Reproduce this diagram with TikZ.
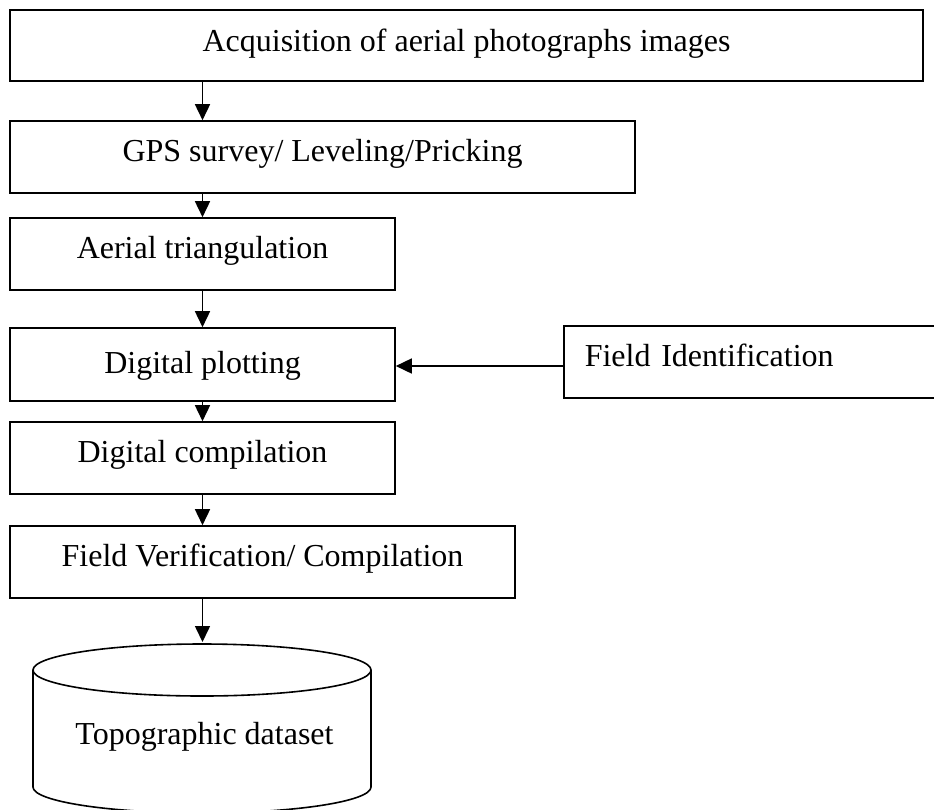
\documentclass[tikz,border=0pt]{standalone}
\usepackage{fontspec}
\setmainfont{Liberation Serif}
\usetikzlibrary{arrows.meta}
\begin{document}
\begin{tikzpicture}[x=1pt,y=1pt,
  box/.style={draw, line width=1.6pt, inner sep=0pt,
    font=\fontsize{32}{38}\selectfont, text height=20pt, text depth=12pt},
  flow/.style={line width=1.6pt, -{Triangle[width=15pt,length=16pt]}},
  can/.style={line width=1.6pt}]
\useasboundingbox (0,0) rectangle (934,-809);

% main chain of steps
\node[box, minimum width=913pt, minimum height=71pt, text height=22pt, text depth=11pt]
  (acq) at (466.5,-45.5) {Acquisition of aerial photographs images};
\node[box, minimum width=625pt, minimum height=72pt] (gps) at (322.5,-157) {GPS survey/ Leveling/Pricking};
\node[box, minimum width=385pt, minimum height=72pt] (tri) at (202.5,-254) {Aerial triangulation};
\node[box, minimum width=385pt, minimum height=73pt, text height=25pt, text depth=7pt]
  (plot) at (202.5,-364.5) {Digital plotting};
\node[box, minimum width=385pt, minimum height=72pt] (comp) at (202.5,-458) {Digital compilation};
\node[box, minimum width=505pt, minimum height=72pt] (ver) at (262.5,-562) {Field Verification/ Compilation};

% side input
\node[box, anchor=west, minimum height=72pt, inner xsep=21pt, text width=380pt, align=left]
  (fid) at (563,-362) {Field Identification};

% database cylinder
\coordinate (db) at (202.5,-642);
\draw[can] (202,-670) ellipse [x radius=169pt, y radius=26pt];
\draw[can] (33,-670) -- (33,-787) arc[start angle=180, end angle=360, x radius=169pt, y radius=26pt] -- (371,-670);
\node[font=\fontsize{32}{38}\selectfont, anchor=base] (dbtext) at (204.5,-744) {Topographic dataset};

% connectors
\draw[flow] (acq.south -| tri.south) -- (gps.north -| tri.south);
\draw[flow] (gps.south -| tri.south) -- (tri.north);
\draw[flow] (tri.south) -- (plot.north);
\draw[flow] (plot.south) -- (comp.north);
\draw[flow] (comp.south) -- (ver.north -| tri.south);
\draw[flow] (ver.south -| tri.south) -- (db);
\draw[flow] ([yshift=-1.5pt]fid.west |- plot.east) -- ([yshift=-1.5pt]plot.east);
\end{tikzpicture}
\end{document}
